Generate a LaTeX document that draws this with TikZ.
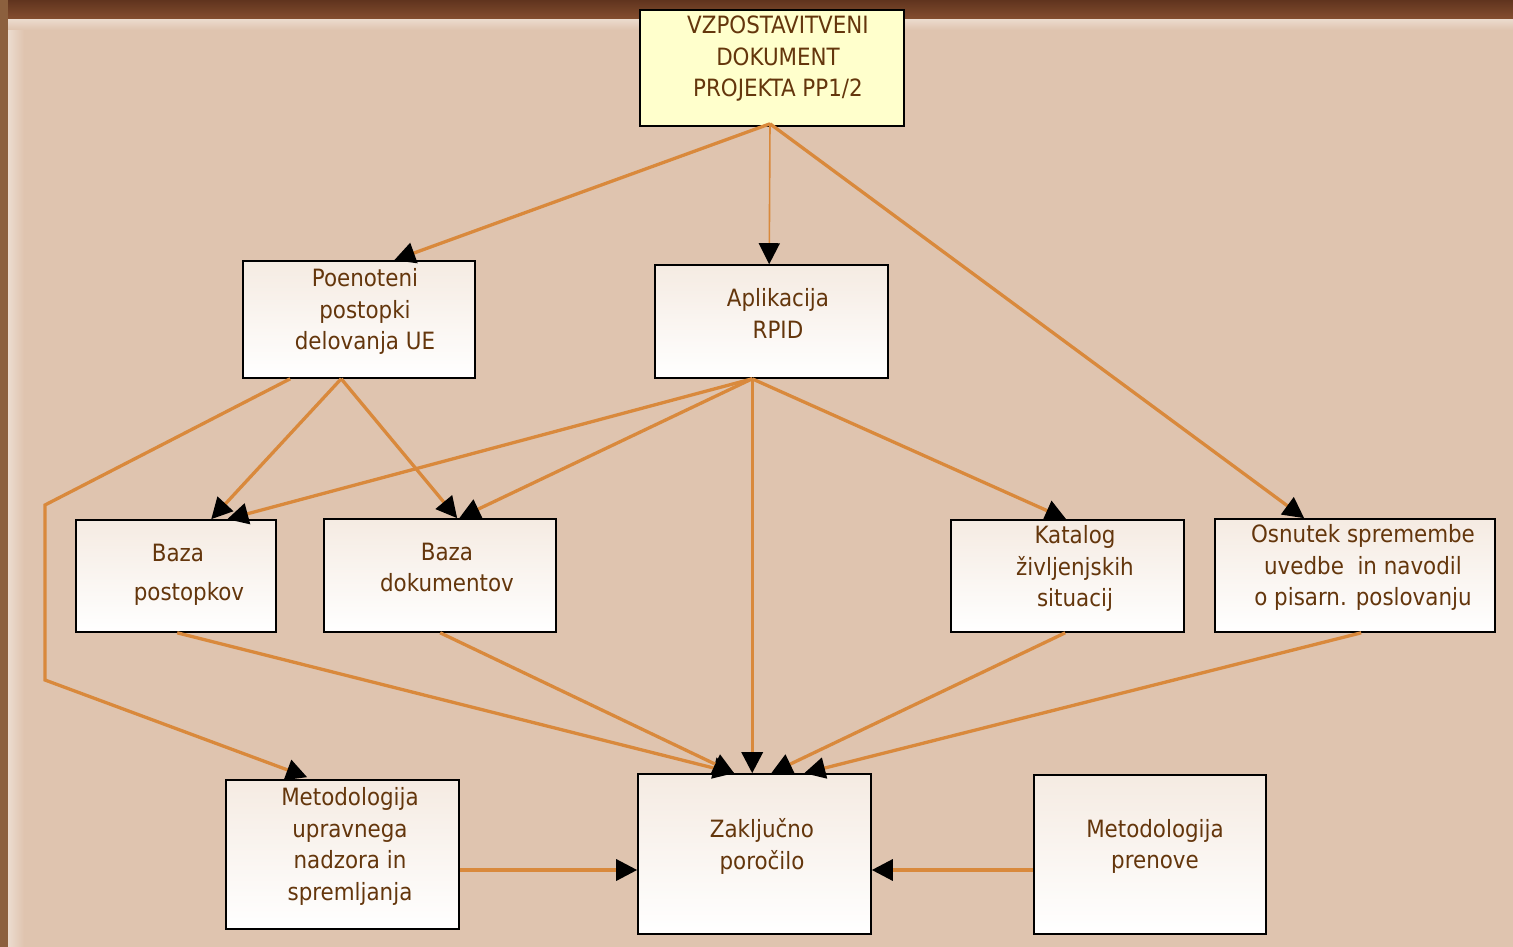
\documentclass[tikz,border=0pt]{standalone}
\usepackage{fontspec}
\setmainfont{DejaVu Sans Condensed}
\usetikzlibrary{arrows.meta,calc}
\definecolor{bgtan}{RGB}{223,196,175}
\definecolor{woodtop}{RGB}{96,52,30}
\definecolor{woodlow}{RGB}{138,82,50}
\definecolor{woodside}{RGB}{140,96,62}
\definecolor{lineor}{RGB}{217,137,60}
\definecolor{txtbrown}{RGB}{100,54,12}
\definecolor{boxtop}{RGB}{245,235,226}
\definecolor{paleyellow}{RGB}{255,255,204}
\tikzset{
  box/.style={draw=black, line width=1.6pt, inner sep=0pt,
    top color=boxtop, bottom color=white},
  startbox/.style={draw=black, line width=1.6pt, inner sep=0pt, fill=paleyellow},
  label/.style={inner sep=0pt, align=center, text=txtbrown,
    font=\fontsize{23.8}{31.5}\selectfont},
  conn/.style={draw=lineor, line width=3.3pt,
    -{Triangle[length=21pt,width=21pt,color=black]}},
  thinconn/.style={conn, line width=1.6pt},
}
\begin{document}
\begin{tikzpicture}[x=1pt,y=-1pt]
  \useasboundingbox (0,0) rectangle (1513,947);
  % wooden frame and paper background
  \shade[top color=woodtop, bottom color=woodlow] (0,0) rectangle (1513,22);
  \fill[woodside] (0,0) rectangle (8,947);
  \fill[bgtan] (8,20) rectangle (1513,947);
  \shade[left color=white!40!bgtan, right color=bgtan] (8,20) rectangle (24,947);
  \shade[top color=white!35!bgtan, bottom color=bgtan] (8,20) rectangle (1513,30);

  % boxes
  \node[startbox, minimum width=264pt, minimum height=116pt] (top) at (772,68) {};
  \node[box, minimum width=232pt, minimum height=117pt] (poe) at (359,319.5) {};
  \node[box, minimum width=233pt, minimum height=113pt] (apl) at (771.5,321.5) {};
  \node[box, minimum width=200pt, minimum height=112pt] (bp) at (176,576) {};
  \node[box, minimum width=232pt, minimum height=113pt] (bd) at (440,575.5) {};
  \node[box, minimum width=233pt, minimum height=112pt] (kat) at (1067.5,576) {};
  \node[box, minimum width=280pt, minimum height=113pt] (osn) at (1355,575.5) {};
  \node[box, minimum width=233pt, minimum height=149pt] (mu) at (342.5,854.5) {};
  \node[box, minimum width=233pt, minimum height=160pt] (zak) at (754.5,854) {};
  \node[box, minimum width=232pt, minimum height=159pt] (mp) at (1150,854.5) {};

  % texts
  \node[label] (topt) at (778,59) {VZPOSTAVITVENI\\DOKUMENT\\PROJEKTA PP1/2};
  \node[label] (poet) at (365,311.5) {Poenoteni\\postopki\\delovanja UE};
  \node[label] (aplt) at (778,313.5) {Aplikacija\\RPID};
  \node[label] (bpt1) at (178,552.5) {Baza};
  \node[label] (bpt2) at (189,593.5) {postopkov};
  \node[label] (bdt) at (447,567.5) {Baza\\dokumentov};
  \node[label] (katt) at (1075,568.5) {Katalog\\življenjskih\\situacij};
  \node[label] (osnt) at (1363,567.5) {Osnutek spremembe\\uvedbe\ \ in navodil\\o pisarn. poslovanju};
  \node[label] (mut) at (350,846.5) {Metodologija\\upravnega\\nadzora in\\spremljanja};
  \node[label] (zakt) at (762,846.5) {Zaključno\\poročilo};
  \node[label] (mpt) at (1155,846.5) {Metodologija\\prenove};

  % bends of the long connector on the left
  \coordinate (bendA) at (45,505);
  \coordinate (bendB) at (45,680);

  % connectors
  \draw[conn] ($(top.south)+(-2,-3)$) -- ($(poe.north west)+(152,0)$);
  \draw[thinconn] ($(top.south)+(-2,-3)$) -- ($(apl.north west)+(115,0)$);
  \draw[conn] ($(top.south)+(-2,-3)$) -- ($(osn.north west)+(90,0)$);

  \draw[conn] ($(poe.south west)+(48,0)$) -- (bendA) -- (bendB) -- ($(mu.north west)+(82,-2)$);
  \draw[conn] ($(poe.south west)+(99,0)$) -- ($(bp.north west)+(136,0)$);
  \draw[conn] ($(poe.south west)+(99,0)$) -- ($(bd.north west)+(134,0)$);

  \draw[conn] ($(apl.south west)+(98,0)$) -- ($(bp.north west)+(152,0)$);
  \draw[conn] ($(apl.south west)+(98,0)$) -- ($(bd.north west)+(136,0)$);
  \draw[conn] ($(apl.south west)+(98,0)$) -- ($(zak.north west)+(115,0)$);
  \draw[conn] ($(apl.south west)+(98,0)$) -- ($(kat.north west)+(116,0)$);

  \draw[conn] ($(bp.south west)+(102,0)$) -- ($(zak.north west)+(97,0)$);
  \draw[conn] ($(bd.south west)+(117,0)$) -- ($(zak.north west)+(97,0)$);
  \draw[conn] ($(kat.south west)+(115,0)$) -- ($(zak.north west)+(134,0)$);
  \draw[conn] ($(osn.south west)+(147,0)$) -- ($(zak.north west)+(167,0)$);

  \draw[conn] ($(mu.east)+(0,15.5)$) -- ($(zak.west)+(0,16)$);
  \draw[conn] ($(mp.west)+(0,15.5)$) -- ($(zak.east)+(0,16)$);
\end{tikzpicture}
\end{document}
